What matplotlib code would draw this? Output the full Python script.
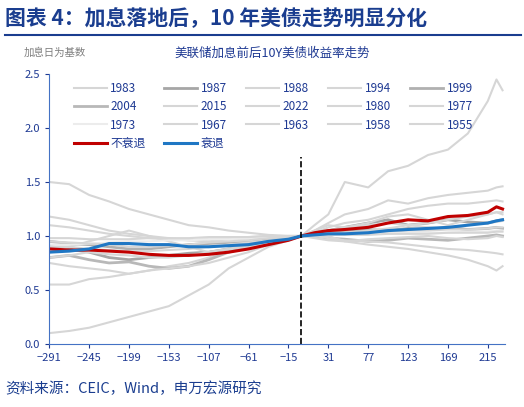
import matplotlib
matplotlib.use("Agg")
import matplotlib.pyplot as plt

plt.rcParams['font.family'] = ['Noto Sans CJK SC', 'DejaVu Sans']

# days relative to the rate-hike day
days = [-291, -268, -245, -222, -199, -176, -153, -130, -107, -84, -61, -38, -15, 0,
        15, 31, 50, 77, 100, 123, 146, 169, 192, 215, 225, 232]

# recession / no-recession averages
no_recession = [0.88, 0.87, 0.87, 0.86, 0.85, 0.83, 0.82, 0.82, 0.83, 0.85, 0.88, 0.92, 0.96, 1.0,
                1.03, 1.05, 1.06, 1.08, 1.12, 1.15, 1.14, 1.18, 1.19, 1.22, 1.27, 1.25]
recession = [0.85, 0.86, 0.88, 0.93, 0.93, 0.92, 0.92, 0.90, 0.90, 0.91, 0.92, 0.95, 0.97, 1.0,
             1.01, 1.02, 1.02, 1.03, 1.05, 1.06, 1.07, 1.08, 1.10, 1.12, 1.14, 1.15]

# individual hike cycles
years = ['1983', '1987', '1988', '1994', '1999', '2004', '2015', '2022', '1980', '1977',
         '1973', '1967', '1963', '1958', '1955']
cycles = {
    '1983': [1.5, 1.48, 1.38, 1.32, 1.25, 1.2, 1.15, 1.1, 1.08, 1.05, 1.03, 1.01, 1.0, 1.0,
             1.05, 1.12, 1.2, 1.25, 1.33, 1.3, 1.35, 1.38, 1.4, 1.42, 1.45, 1.46],
    '1987': [0.9, 0.88, 0.85, 0.8, 0.78, 0.8, 0.82, 0.84, 0.85, 0.88, 0.9, 0.93, 0.97, 1.0,
             1.02, 1.05, 1.08, 1.12, 1.15, 1.1, 1.12, 1.15, 1.13, 1.12, 1.14, 1.15],
    '1988': [1.18, 1.15, 1.1, 1.05, 1.02, 1.0, 0.98, 0.96, 0.95, 0.97, 0.98, 0.99, 1.0, 1.0,
             1.02, 1.05, 1.08, 1.1, 1.12, 1.1, 1.08, 1.07, 1.1, 1.12, 1.13, 1.14],
    '1994': [0.75, 0.72, 0.7, 0.68, 0.65, 0.68, 0.72, 0.75, 0.8, 0.86, 0.92, 0.96, 0.99, 1.0,
             1.1, 1.2, 1.5, 1.45, 1.6, 1.65, 1.75, 1.8, 1.95, 2.25, 2.45, 2.35],
    '1999': [0.95, 0.93, 0.92, 0.9, 0.88, 0.88, 0.9, 0.92, 0.93, 0.94, 0.95, 0.97, 0.98, 1.0,
             1.02, 1.04, 1.05, 1.06, 1.05, 1.07, 1.06, 1.08, 1.06, 1.07, 1.08, 1.07],
    '2004': [0.8, 0.82, 0.78, 0.75, 0.76, 0.72, 0.7, 0.72, 0.78, 0.85, 0.9, 0.95, 0.98, 1.0,
             1.0, 0.98, 0.97, 0.95, 0.96, 0.98, 0.97, 0.96, 0.98, 1.0, 1.01, 1.0],
    '2015': [0.1, 0.12, 0.15, 0.2, 0.25, 0.3, 0.35, 0.45, 0.55, 0.7, 0.8, 0.9, 0.96, 1.0,
             1.02, 1.0, 0.95, 0.92, 0.9, 0.88, 0.85, 0.82, 0.78, 0.72, 0.68, 0.72],
    '2022': [0.55, 0.55, 0.6, 0.62, 0.65, 0.68, 0.7, 0.72, 0.75, 0.8, 0.85, 0.92, 0.98, 1.0,
             1.05, 1.1, 1.08, 1.12, 1.18, 1.2, 1.15, 1.1, 1.15, 1.2, 1.22, 1.2],
    '1980': [0.85, 0.9, 0.95, 1.0, 1.05, 1.0, 0.95, 0.9, 0.85, 0.88, 0.92, 0.95, 0.98, 1.0,
             0.98, 0.96, 0.95, 0.97, 0.98, 0.99, 1.0, 0.98, 0.97, 0.98, 1.0, 0.99],
    '1977': [1.1, 1.08, 1.05, 1.02, 1.0, 0.98, 0.97, 0.96, 0.97, 0.98, 0.99, 1.0, 1.0, 1.0,
             1.01, 1.02, 1.03, 1.03, 1.04, 1.05, 1.05, 1.06, 1.06, 1.07, 1.08, 1.08],
    '1973': [0.92, 0.92, 0.93, 0.94, 0.95, 0.95, 0.96, 0.96, 0.97, 0.97, 0.98, 0.99, 1.0, 1.0,
             1.0, 1.01, 1.01, 1.02, 1.02, 1.03, 1.03, 1.03, 1.04, 1.04, 1.05, 1.05],
    '1967': [0.95, 0.94, 0.93, 0.92, 0.9, 0.9, 0.91, 0.92, 0.94, 0.95, 0.96, 0.98, 0.99, 1.0,
             1.01, 1.02, 1.03, 1.05, 1.07, 1.1, 1.12, 1.15, 1.18, 1.2, 1.22, 1.22],
    '1963': [0.98, 0.98, 0.97, 0.97, 0.97, 0.98, 0.98, 0.98, 0.99, 0.99, 0.99, 1.0, 1.0, 1.0,
             1.0, 1.01, 1.01, 1.01, 1.02, 1.02, 1.02, 1.03, 1.03, 1.03, 1.04, 1.04],
    '1958': [0.8, 0.82, 0.85, 0.83, 0.82, 0.8, 0.8, 0.82, 0.85, 0.88, 0.9, 0.93, 0.97, 1.0,
             1.03, 1.08, 1.12, 1.15, 1.2, 1.25, 1.28, 1.3, 1.3, 1.32, 1.33, 1.32],
    '1955': [0.9, 0.9, 0.88, 0.87, 0.86, 0.86, 0.87, 0.88, 0.9, 0.92, 0.94, 0.96, 0.98, 1.0,
             1.0, 0.98, 0.96, 0.95, 0.94, 0.92, 0.9, 0.88, 0.87, 0.85, 0.84, 0.83],
}
grey = {'1987': ('#a6a6a6', 2.0), '1999': ('#b0b0b0', 2.0), '2004': ('#b8b8b8', 2.0),
        '1973': ('#ececec', 1.5)}

xticks = [-291, -245, -199, -153, -107, -61, -15, 31, 77, 123, 169, 215]

fig = plt.figure(figsize=(5.24, 4.07), dpi=100)
navy = '#1f3a93'
fig.text(0.01, 0.955, '图表 4：加息落地后，10 年美债走势明显分化', fontsize=15,
         fontweight='bold', color='#1a3d8f', va='center')
fig.add_artist(plt.Line2D([0.01, 0.995], [0.915, 0.915], color='#1a3d8f', lw=1.5))
fig.text(0.01, 0.045, '资料来源：CEIC，Wind，申万宏源研究', fontsize=10.5, color='#1a3d8f', va='center')
fig.text(0.045, 0.87, '加息日为基数', fontsize=7.5, color='#7f7f7f', va='center')
fig.text(0.52, 0.87, '美联储加息前后10Y美债收益率走势', fontsize=9, color=navy, va='center', ha='center')

ax = fig.add_axes([0.094, 0.155, 0.87, 0.663])
lines = {}
for y in years:
    c, lw = grey.get(y, ('#d6d6d6', 1.5))
    lines[y], = ax.plot(days, cycles[y], color=c, lw=lw, label=y)
lines['不衰退'], = ax.plot(days, no_recession, color='#c00000', lw=2.2, label='不衰退')
lines['衰退'], = ax.plot(days, recession, color='#1f77c4', lw=2.2, label='衰退')
ax.plot([0, 0], [0, 1.73], color='black', ls='--', lw=1.2)

ax.set_xlim(-291, 235)
ax.set_ylim(0, 2.5)
ax.set_xticks(xticks)
ax.set_yticks([0, 0.5, 1.0, 1.5, 2.0, 2.5])
ax.set_yticklabels(['0.0', '0.5', '1.0', '1.5', '2.0', '2.5'])
ax.tick_params(labelsize=8, colors=navy, length=3)
for s in ['top', 'right']:
    ax.spines[s].set_visible(False)
ax.spines['left'].set_color('#4472c4')
ax.spines['bottom'].set_color('#4472c4')

# legend reads row by row: matplotlib fills columns, so reorder
order = ['1983', '2004', '1973', '不衰退', '1987', '2015', '1967', '衰退',
         '1988', '2022', '1963', '1994', '1980', '1958', '1999', '1977', '1955']
leg = ax.legend([lines[k] for k in order], order, ncol=5, loc='upper left',
                bbox_to_anchor=(0.03, 1.01), frameon=False, fontsize=8.5,
                handlelength=2.8, handletextpad=0.3, columnspacing=1.6, labelspacing=0.45)
for t in leg.get_texts():
    t.set_color(navy)

fig.savefig('out.png', dpi=100)
